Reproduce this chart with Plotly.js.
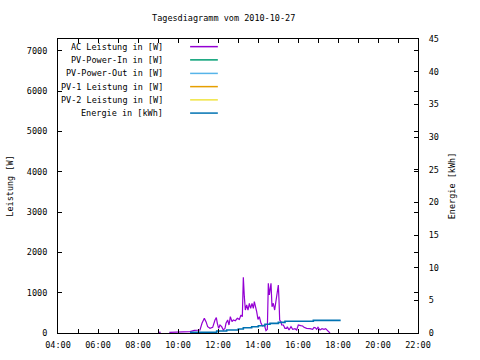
<!DOCTYPE html>
<html>
<head>
<meta charset="utf-8">
<script src="https://cdn.plot.ly/plotly-3.0.1.min.js"></script>
<style>html,body{margin:0;padding:0;background:#fff}#chart{width:480px;height:360px}</style>
</head>
<body>
<div id="chart"></div>
<script>
const day = "2010-10-27";
const seriesNames = ["AC Leistung in [W]", "PV-Power-In in [W]", "PV-Power-Out in [W]", "PV-1 Leistung in [W]", "PV-2 Leistung in [W]", "Energie in [kWh]"];
const seriesColors = ["#9400d3", "#009e73", "#56b4e9", "#e69f00", "#f0e442", "#0072b2"];

const acTimes = ["09:00","09:08","09:20","09:34","10:36","10:49","11:06","11:12","11:19","11:24","11:29","11:36","11:44","11:51","11:55","11:58","12:02","12:06","12:11","12:16","12:21","12:24","12:29","12:33","12:37","12:42","12:46","12:52","12:58","13:04","13:09","13:13","13:16","13:19","13:22","13:26","13:30","13:34","13:38","13:42","13:46","13:49","13:53","13:56","14:00","14:04","14:09","14:14","14:19","14:24","14:28","14:31","14:34","14:37","14:39","14:42","14:46","14:50","14:54","14:58","15:01","15:03","15:05","15:09","15:11","15:16","15:21","15:26","15:28","15:33","15:39","15:44","15:51","15:56","16:01","16:08","16:14","16:18","16:26","16:36","16:44","16:48","16:52","16:56","17:00","17:06","17:12","17:18","17:23","17:28","17:32","17:36"];
const acValues = [17,17,null,17,33,66,74,240,363,281,157,116,140,322,380,240,116,198,157,74,116,240,322,198,405,281,322,305,363,338,446,405,1381,901,570,694,570,736,612,736,612,777,653,529,338,405,240,174,198,58,91,1232,942,1066,1232,653,736,570,777,1066,1190,818,322,281,198,198,116,116,157,74,157,91,107,74,198,182,174,140,116,107,91,140,132,91,140,74,107,91,107,66,33,0];

const pvInTimes = [];  const pvInValues = [];
const pvOutTimes = []; const pvOutValues = [];
const pv1Times = [];   const pv1Values = [];
const pv2Times = [];   const pv2Values = [];

const energyTimes = ["10:36","11:56","12:26","13:01","13:16","13:41","14:01","14:21","14:36","15:01","15:21","16:46","18:08"];
const energyValues = [0.1,0.3,0.46,0.61,0.81,0.96,1.12,1.33,1.48,1.63,1.79,1.94,1.94];

const xTickVals = ["04:00","06:00","08:00","10:00","12:00","14:00","16:00","18:00","20:00","22:00"];

const toDate = t => day + " " + t;
const F = "DejaVu Sans Mono, monospace";

const seriesX = [acTimes, pvInTimes, pvOutTimes, pv1Times, pv2Times, energyTimes];
const seriesY = [acValues, pvInValues, pvOutValues, pv1Values, pv2Values, energyValues];
const lineWidths = [1.2, 1.2, 1.2, 1.2, 1.2, 1.6];

const traces = seriesNames.map((name, i) => ({
  type: "scatter", mode: "lines", name: name,
  x: seriesX[i].map(toDate), y: seriesY[i],
  yaxis: i === 5 ? "y2" : "y",
  line: {color: seriesColors[i], width: lineWidths[i], shape: i === 5 ? "hv" : "linear"},
  connectgaps: false, showlegend: false
}));

const rowY = [0.974, 0.929, 0.883, 0.838, 0.793, 0.748];
const annotations = seriesNames.map((name, i) => ({
  xref: "paper", yref: "paper", x: 0.297, y: rowY[i], xanchor: "right", yanchor: "middle",
  text: name, showarrow: false, font: {family: F, size: 8.5, color: "#000"}
}));
const shapes = seriesNames.map((name, i) => ({
  type: "line", xref: "paper", yref: "paper", x0: 0.367, x1: 0.444, y0: rowY[i], y1: rowY[i],
  line: {color: seriesColors[i], width: 1.5}
}));

const layout = {
  width: 480, height: 360,
  margin: {l: 58, r: 62, t: 39, b: 27},
  paper_bgcolor: "#fff", plot_bgcolor: "#fff",
  font: {family: F, size: 8.5, color: "#000"},
  title: {text: "Tagesdiagramm vom 2010-10-27", font: {family: F, size: 8.5, color: "#000"},
          xref: "container", yref: "container", x: 0.466, y: 0.95, xanchor: "center", yanchor: "middle"},
  xaxis: {type: "date", range: [toDate("04:00"), toDate("22:00")],
          tickvals: xTickVals.map(toDate), ticktext: xTickVals,
          ticks: "inside", ticklen: 4, tickcolor: "#000", tickwidth: 1,
          minor: {dtick: 3600000, ticks: "inside", ticklen: 4, tickcolor: "#000"},
          showline: true, linecolor: "#000", linewidth: 1, mirror: "ticks",
          showgrid: false, zeroline: false, fixedrange: true, ticklabelstandoff: 4},
  yaxis: {range: [0, 7290], dtick: 1000, tick0: 0,
          ticks: "inside", ticklen: 4, tickcolor: "#000",
          showline: true, linecolor: "#000", linewidth: 1, mirror: "ticks",
          showgrid: false, zeroline: false, ticklabelstandoff: 8,
          title: {text: "Leistung [W]", font: {family: F, size: 8.5}, standoff: 11}},
  yaxis2: {overlaying: "y", side: "right", range: [0, 45], dtick: 5, tick0: 0,
          ticks: "inside", ticklen: 4, tickcolor: "#000",
          showline: true, linecolor: "#000", linewidth: 1,
          showgrid: false, zeroline: false, ticklabelstandoff: 8,
          title: {text: "Energie [kWh]", font: {family: F, size: 8.5}, standoff: 11}},
  annotations: annotations,
  shapes: shapes
};

Plotly.newPlot("chart", traces, layout, {displayModeBar: false, staticPlot: true});
</script>
</body>
</html>
